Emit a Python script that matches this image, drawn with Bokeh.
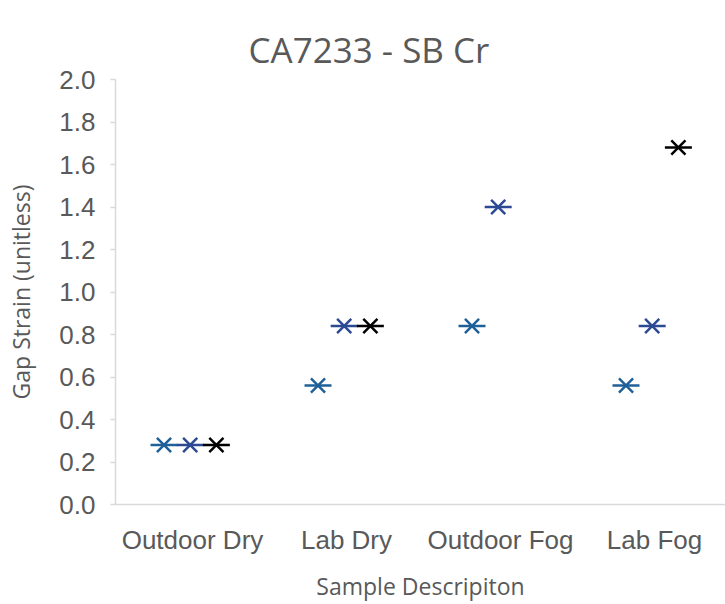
from bokeh.plotting import figure
from bokeh.models import FixedTicker, ColumnDataSource, Range1d
from bokeh.embed import file_html
from bokeh.resources import INLINE

# ---- data ----
categories = ["Outdoor Dry", "Lab Dry", "Outdoor Fog", "Lab Fog"]
series_1 = [0.28, 0.56, 0.84, 0.56]
series_2 = [0.28, 0.84, 1.40, 0.84]
series_3 = [0.28, 0.84, None, 1.68]
y_ticks = [0.0, 0.2, 0.4, 0.6, 0.8, 1.0, 1.2, 1.4, 1.6, 1.8, 2.0]
title_text = "CA7233 - SB Cr"

# ---- styling ----
series = [
    (series_1, -0.185, "#1F6099"),
    (series_2, -0.015, "#2B4A93"),
    (series_3, 0.155, "#000000"),
]
GRAY = "#595959"
AXIS = "#D9D9D9"
W, H = 725, 604

p = figure(width=W, height=H, output_backend="svg", toolbar_location=None,
           x_range=Range1d(-0.5, 3.461), y_range=Range1d(0, 2.0),
           min_border_left=115, min_border_right=0, min_border_top=79,
           min_border_bottom=100)
p.outline_line_color = None
p.xgrid.visible = False
p.ygrid.visible = False
p.background_fill_color = "white"
p.border_fill_color = "white"

for vals, off, col in series:
    xs = [i + off for i, v in enumerate(vals) if v is not None]
    ys = [v for v in vals if v is not None]
    src = ColumnDataSource(dict(x=xs, y=ys))
    p.scatter("x", "y", source=src, marker="dash", size=27, line_color=col, line_width=2.5)
    p.scatter("x", "y", source=src, marker="x", size=20, line_color=col, line_width=2.5)

# title
p.title.text = title_text
p.title.text_font = "Open Sans"
p.title.text_font_size = "35px"
p.title.text_font_style = "normal"
p.title.text_color = GRAY
p.title.align = "left"
p.title.vertical_align = "top"
p.title.offset = 133
p.title.standoff = 9

# x axis
xa = p.xaxis[0]
xa.ticker = FixedTicker(ticks=list(range(len(categories))))
xa.major_label_overrides = {i: c for i, c in enumerate(categories)}
xa.major_label_text_font = "Liberation Sans"
xa.major_label_text_font_size = "26px"
xa.major_label_text_color = GRAY
xa.major_tick_line_color = None
xa.minor_tick_line_color = None
xa.axis_line_color = AXIS
xa.axis_line_width = 1.5
xa.major_label_standoff = 14
xa.axis_label = "Sample Descripiton"
xa.axis_label_text_font = "Open Sans"
xa.axis_label_text_font_size = "23px"
xa.axis_label_text_font_style = "normal"
xa.axis_label_text_color = GRAY
xa.axis_label_standoff = 12

# y axis
ya = p.yaxis[0]
ya.ticker = FixedTicker(ticks=y_ticks)
ya.major_label_overrides = {t: f"{t:.1f}" for t in y_ticks}
ya.major_label_text_font = "Liberation Sans"
ya.major_label_text_font_size = "26px"
ya.major_label_text_color = GRAY
ya.major_tick_in = 0
ya.major_tick_out = 5
ya.major_tick_line_color = AXIS
ya.major_tick_line_width = 1.5
ya.minor_tick_line_color = None
ya.axis_line_color = AXIS
ya.axis_line_width = 1.5
ya.major_label_standoff = 15
ya.axis_label = "Gap Strain (unitless)"
ya.axis_label_text_font = "Open Sans"
ya.axis_label_text_font_size = "23px"
ya.axis_label_text_font_style = "normal"
ya.axis_label_text_color = GRAY
ya.axis_label_standoff = 19

open("out.html", "w").write(file_html(p, INLINE))
